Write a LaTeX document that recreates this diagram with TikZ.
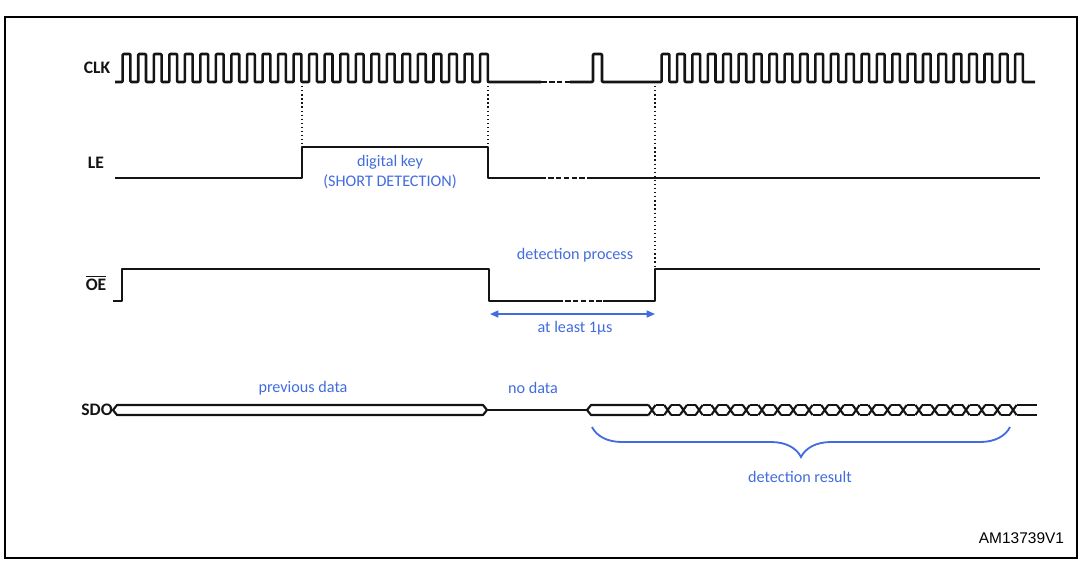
\documentclass[tikz,border=0pt]{standalone}
\usepackage{xcolor}
\usepackage{fontspec}
\setmainfont{Carlito}
\newfontfamily\refnofont{Liberation Sans}
\usepackage{tikz}
\usetikzlibrary{arrows.meta, decorations.pathreplacing}
\definecolor{TDBlue}{RGB}{66,108,222}
\definecolor{TDInk}{RGB}{20,20,20}

\begin{document}
\begin{tikzpicture}[x=0.025cm, y=-0.025cm,
      wave/.style={draw=TDInk, line width=1.8pt, line join=round},
      gap/.style={wave, dash pattern=on 4pt off 1.6pt},
      bus/.style={draw=TDInk, line width=1.5pt, line join=round},
      guide/.style={draw=TDInk, line width=0.9pt, dotted},
      sig/.style={font=\fontsize{12.5}{14}\selectfont\bfseries, text=TDInk},
      note/.style={font=\fontsize{11.5}{14}\selectfont, text=TDBlue, align=center},
      arr/.style={{Triangle[length=6pt,width=5pt]}-{Triangle[length=6pt,width=5pt]},
                  draw=TDBlue, line width=1.1pt}
    ]
    \useasboundingbox (0,0) rectangle (1082,561);
    \draw[line width=1.4pt] (5,17) rectangle (1077,558);

    % signal names
    \node[sig] (clk) at (97,68)  {CLK};
    \node[sig] (le)  at (96,163) {LE};
    \node[sig] (oe)  at (96,283) {$\overline{\hbox{OE}}$};
    \node[sig] (sdo) at (97,410) {SDO};

    % CLK
    \draw[wave, rounded corners=0.6pt] (115,82) -- (122.7,82)
      \foreach \k in {0,...,23}{
        -- ({122.7+\k*15.54},82) -- ({122.7+\k*15.54},54)
        -- ({130.47+\k*15.54},54) -- ({130.47+\k*15.54},82)
      } -- (541,82);
    \draw[gap] (541,82) -- (570,82);
    \draw[wave, rounded corners=0.6pt] (570,82) -- (593,82) -- (593,54) -- (602,54) -- (602,82)
      \foreach \k in {0,...,23}{
        -- ({661.7+\k*15.37},82) -- ({661.7+\k*15.37},54)
        -- ({669.38+\k*15.37},54) -- ({669.38+\k*15.37},82)
      } -- (1035,82);

    % LE
    \draw[wave] (115,178) -- (302,178) -- (302,147) -- (488,147) -- (488,178) -- (540,178);
    \draw[gap] (540,178) -- (592,178);
    \draw[wave] (592,178) -- (1040,178);

    % OE
    \draw[wave] (113,301) -- (122,301) -- (122,269) -- (489,269) -- (489,301) -- (557,301);
    \draw[gap] (557,301) -- (603,301);
    \draw[wave] (603,301) -- (655,301) -- (655,269) -- (1040,269);

    % timing guides
    \coordinate (clkA) at (302,82);  \coordinate (leA) at (302,147);
    \coordinate (clkB) at (488,82);  \coordinate (leB) at (488,147);
    \coordinate (clkC) at (655,82);  \coordinate (oeC) at (655,269);
    \draw[guide] (clkA) -- (leA);
    \draw[guide] (clkB) -- (leB);
    \draw[guide] (clkC) -- (oeC);

    % SDO
    \draw[bus] (113,410) -- (117,405) -- (483,405) -- (487,410) -- (483,415) -- (117,415) -- cycle;
    \draw[bus] (487,410) -- (587,410);
    \draw[bus] (587,410) -- (591,405) -- (648.5,405);
    \draw[bus] (587,410) -- (591,415) -- (648.5,415);
    \foreach \k in {0,...,23}{
      \draw[bus] ({648.5+\k*15.7},405) -- ({655.5+\k*15.7},415)
                 ({648.5+\k*15.7},415) -- ({655.5+\k*15.7},405);
    }
    \foreach \k in {0,...,22}{
      \draw[bus] ({655.5+\k*15.7},405) -- ({664.2+\k*15.7},405)
                 ({655.5+\k*15.7},415) -- ({664.2+\k*15.7},415);
    }
    \draw[bus] (1016.6,405) -- (1037,405) (1016.6,415) -- (1037,415);

    % annotations
    \node[note] (key)  at (390,172) {digital key\\(SHORT DETECTION)};
    \node[note] (proc) at (575,255) {detection process};
    \node[note] (least) at (575,328) {at least 1µs};
    \node[note] (prev) at (303,388) {previous data};
    \node[note] (none) at (533,388) {no data};
    \node[note] (res)  at (800,477) {detection result};

    \coordinate (wA) at (490,314);
    \coordinate (wB) at (655,314);
    \draw[arr] (wA) -- (wB);

    \coordinate (bA) at (592,427);
    \coordinate (bB) at (1010,427);
    \draw[draw=TDBlue, line width=1.3pt,
          decorate, decoration={brace, mirror, amplitude=0.75cm}] (bA) -- (bB);

    \node[font=\refnofont\fontsize{11}{13}\selectfont, anchor=east] (ref) at (1069,538) {AM13739V1};
  \end{tikzpicture}
\end{document}
